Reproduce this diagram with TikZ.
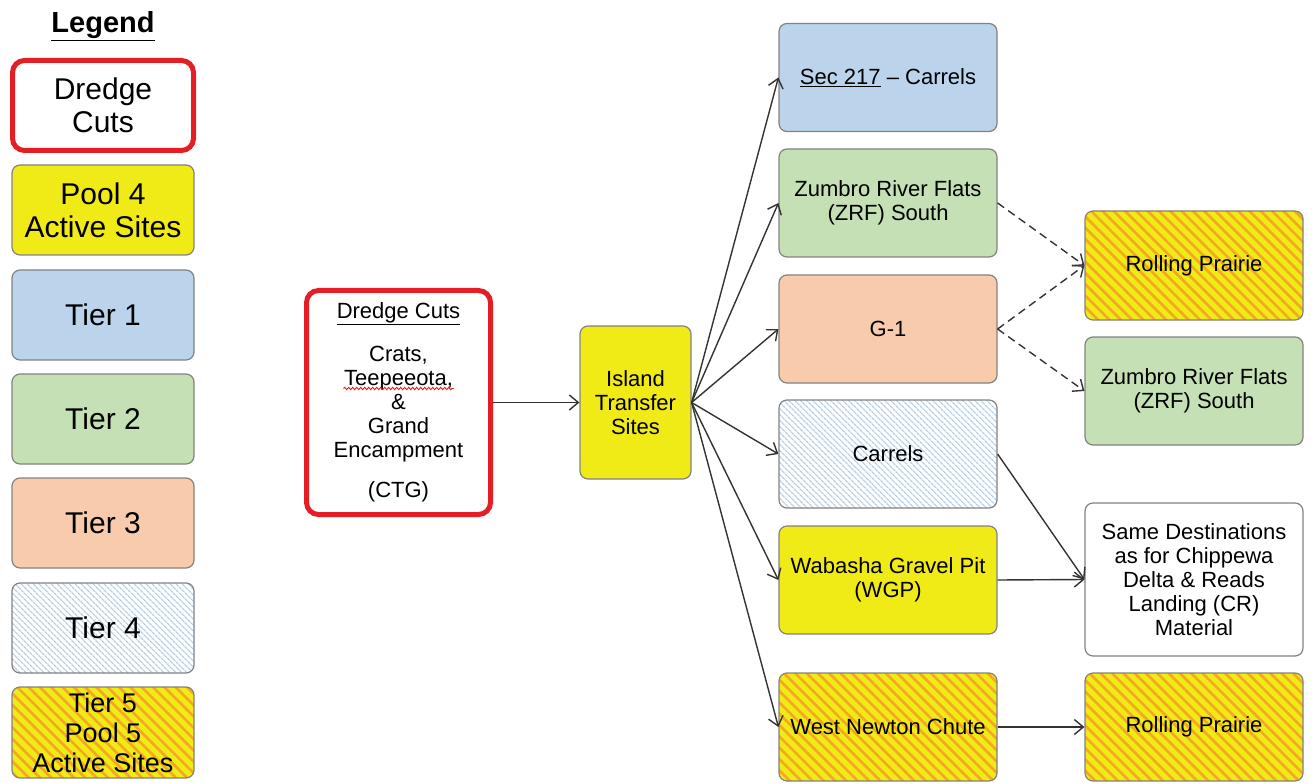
\documentclass[tikz,border=0pt]{standalone}
\usepackage{fontspec}
\setmainfont{Liberation Sans}
\usetikzlibrary{arrows.meta,patterns.meta,decorations.pathmorphing}

\definecolor{tieronecol}{RGB}{187,212,236}
\definecolor{tiertwocol}{RGB}{197,224,180}
\definecolor{tierthreecol}{RGB}{248,203,173}
\definecolor{poolfourcol}{RGB}{240,234,22}
\definecolor{tierfourline}{RGB}{180,206,230}
\definecolor{tierfiveline}{RGB}{244,168,34}
\definecolor{cutred}{RGB}{228,30,36}
\definecolor{boxgray}{RGB}{130,130,130}

\begin{document}
\begin{tikzpicture}[x=1pt, y=-1pt,
		box/.style={draw=boxgray, line width=1.2pt, rounded corners=8pt, align=center,
			minimum width=218pt, minimum height=108pt, inner sep=0pt,
			font=\fontsize{22}{24}\selectfont},
		legbox/.style={box, minimum width=182pt, minimum height=90pt,
			font=\fontsize{30}{33}\selectfont},
		cut/.style={draw=cutred, line width=5pt, rounded corners=12pt},
		tone/.style={fill=tieronecol},
		ttwo/.style={fill=tiertwocol},
		tthree/.style={fill=tierthreecol},
		pfour/.style={fill=poolfourcol},
		tfour/.style={preaction={fill=white},
			pattern={Lines[angle=-45,distance=4pt,line width=1.3pt]}, pattern color=tierfourline},
		tfive/.style={preaction={fill=poolfourcol},
			pattern={Lines[angle=-45,distance=8pt,line width=2.6pt]}, pattern color=tierfiveline},
		flow/.style={draw=black!80, line width=1.4pt, -{Straight Barb[length=9pt,width=15pt]}},
		maybe/.style={flow, dash pattern=on 8pt off 5pt},
		spell/.style={draw=red, line width=0.8pt, decorate,
			decoration={snake, amplitude=1.2pt, segment length=4pt}}]
	\useasboundingbox (0,0) rectangle (1313,783);

	\node[font=\bfseries\fontsize{29}{32}\selectfont] (legtitle) at (103,26) {\underline{Legend}};
	\node[legbox, cut, minimum width=181pt] (legcut) at (103,105.5) {Dredge\\Cuts};
	\node[legbox, pfour] (legpool) at (103,210) {Pool 4\\Active Sites};
	\node[legbox, tone] (legone) at (103,315) {Tier 1};
	\node[legbox, ttwo] (legtwo) at (103,419) {Tier 2};
	\node[legbox, tthree] (legthree) at (103,523) {Tier 3};
	\node[legbox, tfour] (legfour) at (103,628) {Tier 4};
	\node[legbox, tfive, minimum height=91pt, font=\fontsize{27}{30}\selectfont] (legfive)
		at (103,732.5) {Tier 5\\Pool 5\\Active Sites};

	\node[box, cut, minimum width=184pt, minimum height=224pt] (ctg) at (398.5,402.5)
		{\underline{Dredge Cuts}\\[19pt] Crats,\\ Teepeeota,\\ \&\\ Grand\\ Encampment\\[16pt] (CTG)};
	\draw[spell] ([shift={(-55,-14)}]ctg.center) -- ([shift={(55,-14)}]ctg.center);
	\node[box, pfour, minimum width=111pt, minimum height=153pt] (island) at (635.5,402.5)
		{Island\\Transfer\\Sites};

	\node[box, tone] (sec) at (888,77.5) {\underline{Sec 217} – Carrels};
	\node[box, ttwo] (zrfa) at (888,203) {Zumbro River Flats\\(ZRF) South};
	\node[box, tthree] (gone) at (888,329) {G-1};
	\node[box, tfour] (carrels) at (888,454) {Carrels};
	\node[box, pfour] (wgp) at (888,580) {Wabasha Gravel Pit\\(WGP)};
	\node[box, tfive] (wnc) at (888,727) {West Newton Chute};

	\node[box, tfive, minimum height=109pt] (rpa) at (1194,265.5) {Rolling Prairie};
	\node[box, ttwo] (zrfb) at (1194,391) {Zumbro River Flats\\(ZRF) South};
	\node[box, fill=white, minimum height=153pt] (same) at (1194,579.5)
		{Same Destinations\\as for Chippewa\\Delta \& Reads\\Landing (CR)\\Material};
	\node[box, tfive] (rpb) at (1194,727) {Rolling Prairie};

	\draw[flow] (ctg) -- (island);
	\foreach \dest in {sec,zrfa,gone,carrels,wgp,wnc}
		\draw[flow] (island.east) -- (\dest.west);
	\draw[maybe] (zrfa.east) -- (rpa.west);
	\draw[maybe] (gone.east) -- (rpa.west);
	\draw[maybe] (gone.east) -- (zrfb.west);
	\draw[flow] (carrels.east) -- (same.west);
	\draw[flow] (wgp.east) -- (same.west);
	\draw[flow] (wnc.east) -- (rpb.west);
\end{tikzpicture}
\end{document}
